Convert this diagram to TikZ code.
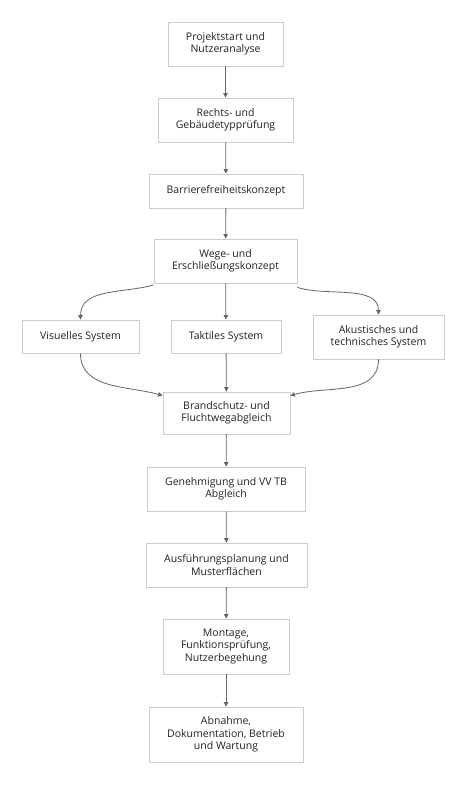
\documentclass[tikz,border=0pt]{standalone}
\usepackage{fontspec}
\setmainfont{Open Sans}
\usetikzlibrary{arrows.meta}
\definecolor{boxline}{HTML}{CCCCCC}
\definecolor{edgeline}{HTML}{666666}
\definecolor{txt}{HTML}{222222}
\tikzset{
  box/.style={draw=boxline, line width=0.8pt, fill=white, align=center, inner sep=0pt,
    font=\fontsize{10.5}{12.5}\selectfont, text=txt},
  edge/.style={draw=edgeline, line width=0.8pt, -{Triangle[length=4.5pt,width=4.5pt]}}
}
\begin{document}
\begin{tikzpicture}[x=1pt,y=-1pt]
\useasboundingbox[fill=white] (0,0) rectangle (467,792);
\node[box, minimum width=115pt, minimum height=44pt] (n1) at (225.5,44) {Projektstart und\\Nutzeranalyse};
\node[box, minimum width=135pt, minimum height=44pt] (n2) at (225.5,120) {Rechts- und\\Gebäudetypprüfung};
\node[box, minimum width=154pt, minimum height=34pt] (n3) at (226,191) {Barrierefreiheitskonzept};
\node[box, minimum width=143pt, minimum height=44pt] (n4) at (225.5,261) {Wege- und\\Erschließungskonzept};
\node[box, minimum width=117pt, minimum height=33pt] (vis) at (80.5,336.5) {Visuelles System};
\node[box, minimum width=110pt, minimum height=33pt] (tak) at (226,336.5) {Taktiles System};
\node[box, minimum width=131pt, minimum height=44pt] (aku) at (378.5,337) {Akustisches und\\technisches System};
\node[box, minimum width=127pt, minimum height=42pt] (bra) at (226.5,413) {Brandschutz- und\\Fluchtwegabgleich};
\node[box, minimum width=158pt, minimum height=44pt] (gen) at (226,489) {Genehmigung und VV TB\\Abgleich};
\node[box, minimum width=161pt, minimum height=44pt] (aus) at (226.5,565) {Ausführungsplanung und\\Musterflächen};
\node[box, minimum width=126pt, minimum height=55pt] (mon) at (226,646.5) {Montage,\\Funktionsprüfung,\\Nutzerbegehung};
\node[box, minimum width=154pt, minimum height=55pt] (abn) at (226,734.5) {Abnahme,\\Dokumentation, Betrieb\\und Wartung};

\draw[edge] (n1) -- (n2);
\draw[edge] (n2) -- (n3);
\draw[edge] (n3) -- (n4);
\draw[edge] ([yshift=-1.5pt]n4.south west) to[out=196, in=90] (vis.north);
\draw[edge] (n4) -- (tak);
\draw[edge] ([yshift=-4pt]n4.south east) to[out=-18, in=90, looseness=0.9] (aku.north);
\draw[edge] (vis.south) to[out=-90, in=164] ([yshift=-4pt]bra.north west);
\draw[edge] (tak) -- (bra);
\draw[edge] (aku.south) to[out=-90, in=16] ([yshift=-4pt]bra.north east);
\draw[edge] (bra) -- (gen);
\draw[edge] (gen) -- (aus);
\draw[edge] (aus) -- (mon);
\draw[edge] (mon) -- (abn);
\end{tikzpicture}
\end{document}
